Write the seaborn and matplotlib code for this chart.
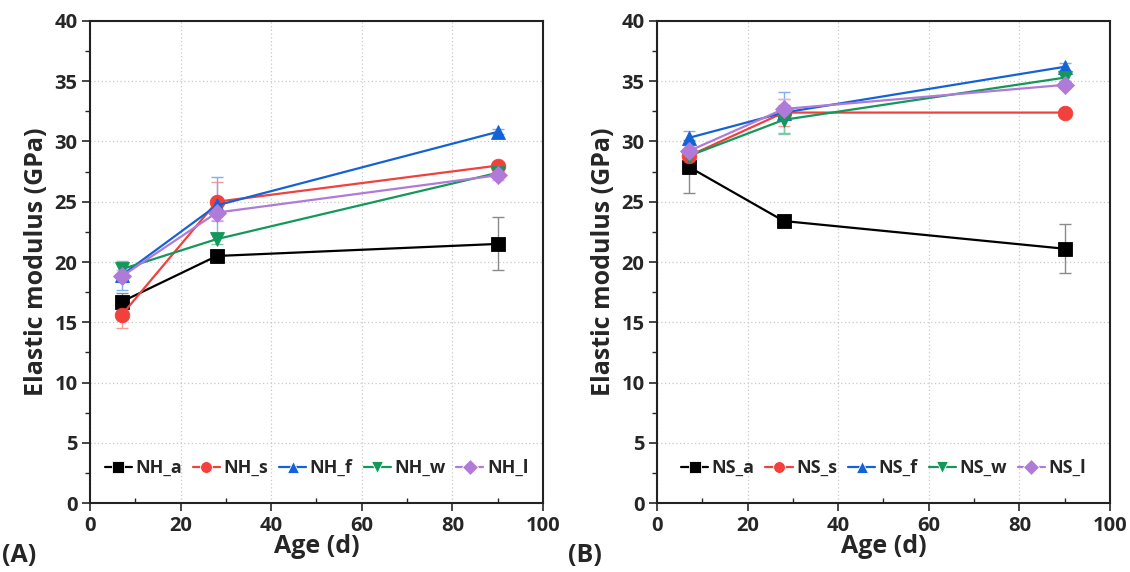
import matplotlib
matplotlib.use("Agg")
import matplotlib.pyplot as plt
import seaborn as sns
import pandas as pd
from matplotlib.ticker import MultipleLocator

# Curing ages (days)
ages = [7, 28, 90]

# Panel A: NH series (GPa) and standard deviations
nh_names = ["NH_a", "NH_s", "NH_f", "NH_w", "NH_l"]
nh_a = [16.7, 20.5, 21.5]
nh_s = [15.6, 25.0, 28.0]
nh_f = [18.9, 24.7, 30.8]
nh_w = [19.4, 21.9, 27.4]
nh_l = [18.8, 24.1, 27.2]
nh_a_err = [0.75, 0.3, 2.2]
nh_s_err = [1.05, 1.6, 0.3]
nh_f_err = [1.2, 2.35, 0.2]
nh_w_err = [0.6, 0.4, 0.3]
nh_l_err = [0.5, 0.6, 0.4]

# Panel B: NS series (GPa) and standard deviations
ns_names = ["NS_a", "NS_s", "NS_f", "NS_w", "NS_l"]
ns_a = [27.9, 23.4, 21.1]
ns_s = [28.8, 32.4, 32.4]
ns_f = [30.3, 32.4, 36.2]
ns_w = [28.8, 31.8, 35.3]
ns_l = [29.2, 32.7, 34.7]
ns_a_err = [2.2, 0.3, 2.05]
ns_s_err = [0.5, 1.1, 0.2]
ns_f_err = [0.6, 1.7, 0.3]
ns_w_err = [0.4, 1.2, 0.3]
ns_l_err = [0.5, 0.8, 0.3]

colors = ["#000000", "#f2403c", "#1463d6", "#14985a", "#b07ad8"]
err_colors = ["#8a8a8a", "#f79a96", "#7fb0f0", "#7fcaa0", "#d2b2ee"]
markers = ["s", "o", "^", "v", "D"]
msizes = [9.5, 10.5, 10.5, 10.5, 9.5]

sns.set_theme(style="ticks")
plt.rcParams["font.family"] = ["Open Sans", "DejaVu Sans"]
plt.rcParams["font.weight"] = "bold"

fig = plt.figure(figsize=(11.3, 5.72), dpi=100)
ax_a = fig.add_axes([0.0796, 0.1206, 0.4009, 0.8427])
ax_b = fig.add_axes([0.5814, 0.1206, 0.4009, 0.8427])


def draw_panel(ax, names, series, errs, panel_label, label_x):
    frame = pd.DataFrame({
        "Age": ages * len(names),
        "E": [v for s in series for v in s],
        "Mix": [n for n in names for _ in ages],
    })
    # error bars underneath the markers
    for i, name in enumerate(names):
        ax.errorbar(ages, series[i], yerr=errs[i], fmt="none",
                    ecolor=err_colors[i], elinewidth=1.0, capsize=4,
                    capthick=1.0, zorder=2)
    n_before = len(ax.get_lines())
    sns.lineplot(data=frame, x="Age", y="E", hue="Mix", style="Mix",
                 palette=colors, markers=markers, dashes=False,
                 markersize=10, markeredgewidth=0.6, linewidth=1.6,
                 ax=ax, zorder=3)
    data_lines = ax.get_lines()[n_before:]
    for line, ms in zip(data_lines, msizes):
        line.set_markersize(ms)
        line.set_markeredgecolor(line.get_color())

    ax.set_xlim(0, 100)
    ax.set_ylim(0, 40)
    ax.xaxis.set_major_locator(MultipleLocator(20))
    ax.xaxis.set_minor_locator(MultipleLocator(10))
    ax.yaxis.set_major_locator(MultipleLocator(5))
    ax.yaxis.set_minor_locator(MultipleLocator(2.5))
    ax.grid(True, which="major", linestyle=(0, (1, 2)), color="#c8c8c8",
            linewidth=0.9)
    ax.set_axisbelow(True)
    for sp in ax.spines.values():
        sp.set_linewidth(1.5)
        sp.set_color("#222222")
    ax.tick_params(axis="both", which="major", direction="out", length=6,
                   width=1.2, labelsize=14.5, pad=3)
    ax.tick_params(axis="y", which="minor", direction="out", length=3.5,
                   width=1.0)
    ax.tick_params(axis="x", which="minor", direction="in", length=3.5,
                   width=1.0)
    for lab in ax.get_xticklabels() + ax.get_yticklabels():
        lab.set_fontweight("bold")
    ax.set_xlabel("Age (d)", fontsize=18, fontweight="bold", labelpad=-1)
    ax.set_ylabel("Elastic modulus (GPa)", fontsize=18, fontweight="bold",
                  labelpad=4)

    handles, labels = ax.get_legend_handles_labels()
    leg = ax.legend(handles, labels, loc="lower center",
                    bbox_to_anchor=(0.5, 0.02), ncol=5, frameon=False,
                    handlelength=1.5, handletextpad=0.2, columnspacing=0.6,
                    prop={"weight": "bold", "size": 13})
    for h in leg.legend_handles:
        h.set_markersize(8.5)
    fig.text(label_x, 0.028, panel_label, fontsize=18, fontweight="bold",
             ha="left", va="center")


draw_panel(ax_a, nh_names, [nh_a, nh_s, nh_f, nh_w, nh_l],
           [nh_a_err, nh_s_err, nh_f_err, nh_w_err, nh_l_err], "(A)", 0.002)
draw_panel(ax_b, ns_names, [ns_a, ns_s, ns_f, ns_w, ns_l],
           [ns_a_err, ns_s_err, ns_f_err, ns_w_err, ns_l_err], "(B)", 0.503)

fig.savefig("out.png", dpi=100)
